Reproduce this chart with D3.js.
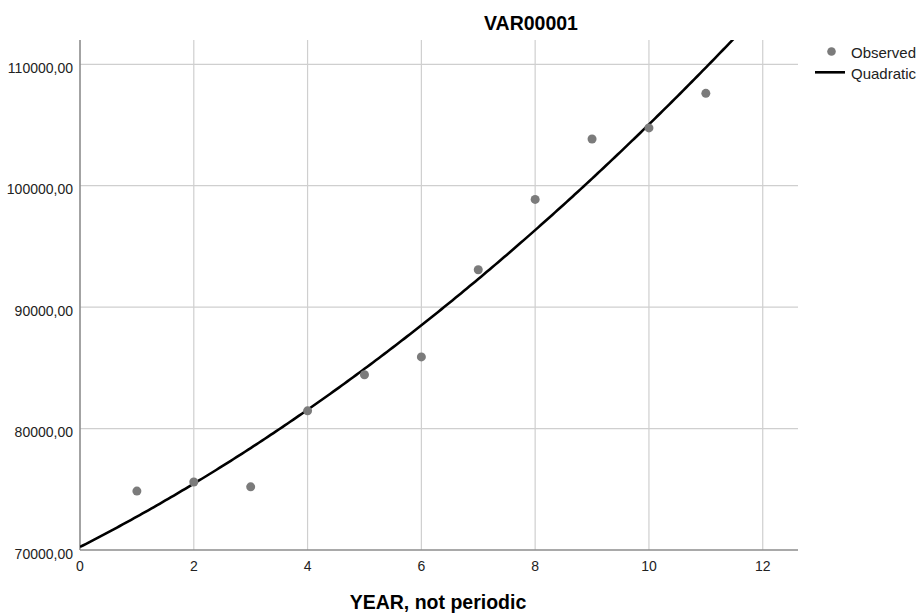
<!DOCTYPE html>
<html>
<head>
<meta charset="utf-8">
<script src="https://cdn.jsdelivr.net/npm/d3@7"></script>
<style>
  body { margin: 0; background: #fff; }
  svg text { font-family: "Liberation Sans", Arial, sans-serif; }
</style>
</head>
<body>
<svg id="chart" width="922" height="613"></svg>
<script>
const years = [1, 2, 3, 4, 5, 6, 7, 8, 9, 10, 11];
const observed = [74850, 75600, 75200, 81460, 84430, 85900, 93080, 98870, 103850, 104760, 107610];
// quadratic fit: b0 + b1*x + b2*x^2
const quadCoef = [70250, 2388, 109.2];
const xTicks = [0, 2, 4, 6, 8, 10, 12];
const yTicks = [70000, 80000, 90000, 100000, 110000];

const svg = d3.select("#chart");
const plot = {left: 80, right: 798, top: 40, bottom: 550};

const x = d3.scaleLinear().domain([0, 12.62]).range([plot.left, plot.right]);
const y = d3.scaleLinear().domain([70000, 112000]).range([plot.bottom, plot.top]);

const fmt = d => d3.format("d")(d) + ",00";

// gridlines
svg.append("g")
    .selectAll("line")
    .data(xTicks.filter(d => d > 0))
    .enter()
    .append("line")
    .attr("x1", d => x(d)).attr("x2", d => x(d))
    .attr("y1", plot.top).attr("y2", plot.bottom)
    .attr("stroke", "#cfcfcf")
    .attr("stroke-width", 1.2);

svg.append("g")
    .selectAll("line")
    .data(yTicks.filter(d => d > 70000))
    .enter()
    .append("line")
    .attr("x1", plot.left).attr("x2", plot.right)
    .attr("y1", d => y(d)).attr("y2", d => y(d))
    .attr("stroke", "#cfcfcf")
    .attr("stroke-width", 1.2);

// axes lines
svg.append("line")
    .attr("x1", plot.left).attr("x2", plot.left)
    .attr("y1", plot.top).attr("y2", plot.bottom)
    .attr("stroke", "#8c8c8c").attr("stroke-width", 1.6);
svg.append("line")
    .attr("x1", plot.left).attr("x2", plot.right)
    .attr("y1", plot.bottom).attr("y2", plot.bottom)
    .attr("stroke", "#8c8c8c").attr("stroke-width", 1.6);

// tick labels
svg.append("g")
    .selectAll("text")
    .data(yTicks)
    .enter()
    .append("text")
    .attr("x", plot.left - 7)
    .attr("y", d => y(d) + 8.5)
    .attr("text-anchor", "end")
    .style("font-size", "14px")
    .attr("fill", "#222")
    .text(fmt);

svg.append("g")
    .selectAll("text")
    .data(xTicks)
    .enter()
    .append("text")
    .attr("x", d => x(d))
    .attr("y", 571)
    .attr("text-anchor", "middle")
    .style("font-size", "14px")
    .attr("fill", "#222")
    .text(d => d);

// quadratic curve, clipped to the plot area
svg.append("clipPath").attr("id", "plot-clip")
    .append("rect")
    .attr("x", plot.left).attr("y", plot.top)
    .attr("width", plot.right - plot.left).attr("height", plot.bottom - plot.top);

const quad = t => quadCoef[0] + quadCoef[1] * t + quadCoef[2] * t * t;
const curveX = d3.range(0, 12.01, 0.05);

svg.append("path")
    .datum(curveX)
    .attr("clip-path", "url(#plot-clip)")
    .attr("fill", "none")
    .attr("stroke", "#000")
    .attr("stroke-width", 2.6)
    .attr("d", d3.line().x(d => x(d)).y(d => y(quad(d))));

// observed points
svg.append("g")
    .selectAll("circle")
    .data(years)
    .enter()
    .append("circle")
    .attr("cx", d => x(d))
    .attr("cy", (d, i) => y(observed[i]))
    .attr("r", 4.5)
    .attr("fill", "#7b7b7b");

// title and axis label
svg.append("text")
    .attr("x", 531)
    .attr("y", 30)
    .attr("text-anchor", "middle")
    .style("font-size", "19.5px")
    .style("font-weight", "bold")
    .text("VAR00001");

svg.append("text")
    .attr("x", 438)
    .attr("y", 609)
    .attr("text-anchor", "middle")
    .style("font-size", "19.5px")
    .style("font-weight", "bold")
    .text("YEAR, not periodic");

// legend
const legend = svg.append("g");
legend.append("circle")
    .attr("cx", 831.5).attr("cy", 51.5).attr("r", 4.3)
    .attr("fill", "#7b7b7b");
legend.append("text")
    .attr("x", 851).attr("y", 58)
    .style("font-size", "15px")
    .attr("fill", "#222")
    .text("Observed");
legend.append("line")
    .attr("x1", 815).attr("x2", 845)
    .attr("y1", 72.3).attr("y2", 72.3)
    .attr("stroke", "#000").attr("stroke-width", 2.6);
legend.append("text")
    .attr("x", 851).attr("y", 79)
    .style("font-size", "15px")
    .attr("fill", "#222")
    .text("Quadratic");
</script>
</body>
</html>
